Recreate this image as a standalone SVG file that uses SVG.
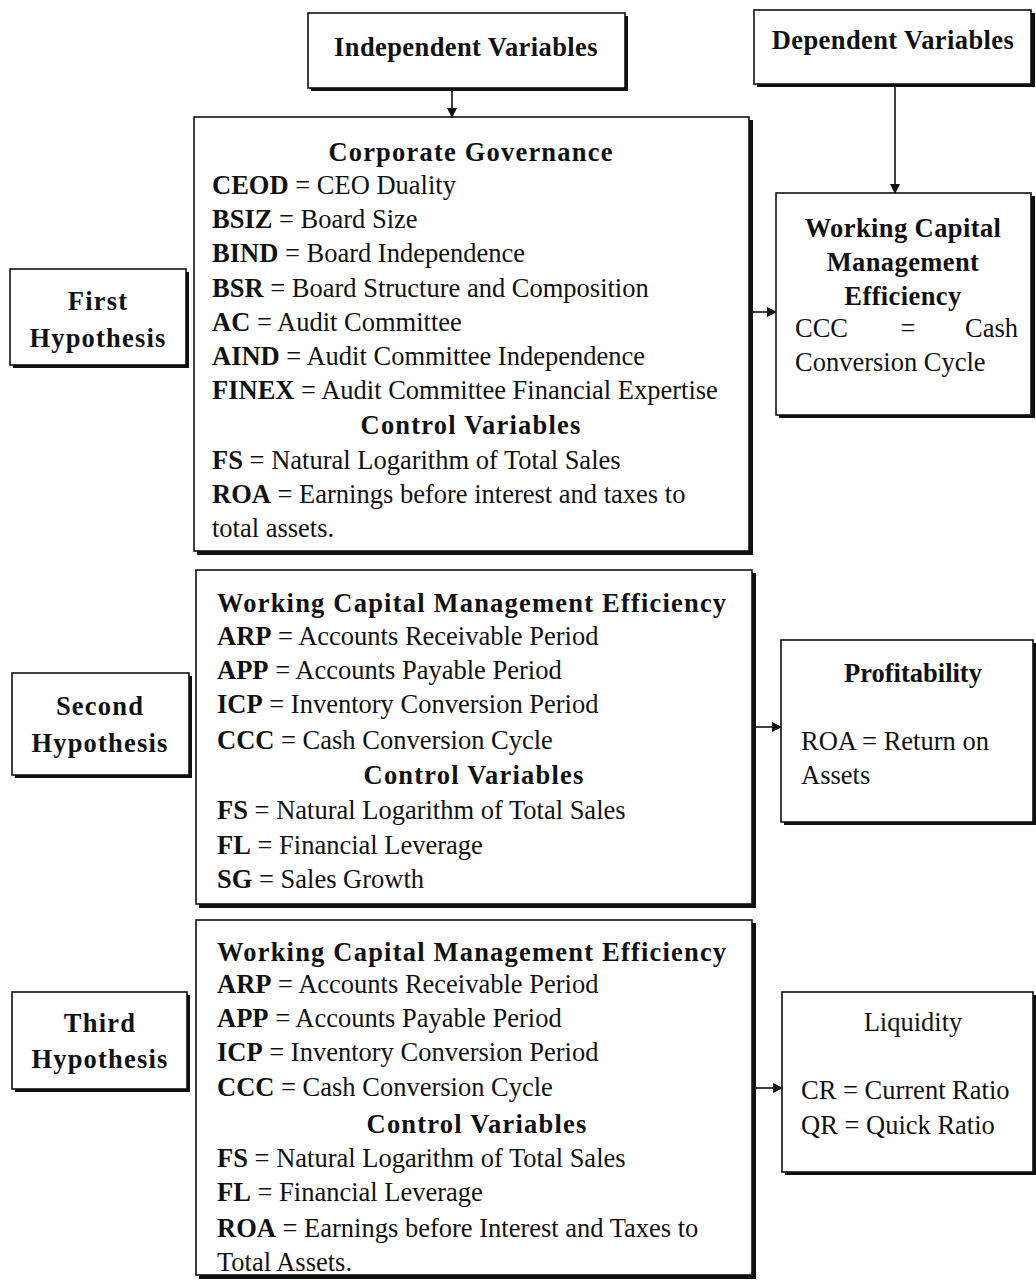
<svg xmlns="http://www.w3.org/2000/svg" width="1036" height="1283" viewBox="0 0 1036 1283">
  <style>
    text { font-family: "Liberation Serif", "Times New Roman", serif; font-size: 26.5px; fill: #111; }
    .b { font-weight: bold; }
    .t { font-weight: bold; letter-spacing: 1.2px; }
    .h { font-weight: bold; letter-spacing: 0.4px; }
    .c { text-anchor: middle; }
    .box { fill: #fff; stroke: #111; stroke-width: 1.6; }
    .shadow { fill: #111; }
    .link { stroke: #111; stroke-width: 1.6; fill: none; }
  </style>
  <defs>
    <marker id="arrow" markerWidth="10" markerHeight="10" refX="9" refY="5" orient="auto" markerUnits="userSpaceOnUse">
      <path d="M0,0 L10,5 L0,10 Z" fill="#111"/>
    </marker>
  </defs>

  <rect width="1036" height="1283" fill="#fff"/>

  <!-- header: independent variables -->
  <g id="independent">
    <rect class="shadow" x="311" y="16" width="317" height="75"/>
    <rect class="box" x="308" y="13" width="317" height="75"/>
    <text class="h c" x="466" y="56">Independent Variables</text>
  </g>

  <!-- header: dependent variables -->
  <g id="dependent">
    <rect class="shadow" x="757" y="13" width="278" height="74"/>
    <rect class="box" x="754" y="10" width="277" height="74"/>
    <text class="h c" x="893" y="49">Dependent Variables</text>
  </g>

  <!-- hypothesis labels -->
  <g id="first-hypothesis">
    <rect class="shadow" x="13" y="272" width="176" height="96"/>
    <rect class="box" x="10" y="269" width="176" height="96"/>
    <text class="t c" x="98" y="310">First</text>
    <text class="t c" x="98" y="347">Hypothesis</text>
  </g>
  <g id="second-hypothesis">
    <rect class="shadow" x="15" y="676" width="177" height="102"/>
    <rect class="box" x="12" y="673" width="177" height="102"/>
    <text class="t c" x="100" y="715">Second</text>
    <text class="t c" x="100" y="752">Hypothesis</text>
  </g>
  <g id="third-hypothesis">
    <rect class="shadow" x="15" y="995" width="175" height="97"/>
    <rect class="box" x="12" y="992" width="175" height="97"/>
    <text class="t c" x="100" y="1032">Third</text>
    <text class="t c" x="100" y="1068">Hypothesis</text>
  </g>

  <!-- first hypothesis: corporate governance -->
  <g id="corporate-governance">
    <rect class="shadow" x="197" y="120" width="556" height="435"/>
    <rect class="box" x="194" y="117" width="555" height="434"/>
    <text class="t c" x="471" y="161">Corporate Governance</text>
    <text x="212" y="194"><tspan class="b">CEOD</tspan> = CEO Duality</text>
    <text x="212" y="228"><tspan class="b">BSIZ</tspan> = Board Size</text>
    <text x="212" y="262"><tspan class="b">BIND</tspan> = Board Independence</text>
    <text x="212" y="297"><tspan class="b">BSR</tspan> = Board Structure and Composition</text>
    <text x="212" y="331"><tspan class="b">AC</tspan> = Audit Committee</text>
    <text x="212" y="365"><tspan class="b">AIND</tspan> = Audit Committee Independence</text>
    <text x="212" y="399"><tspan class="b">FINEX</tspan> = Audit Committee Financial Expertise</text>
    <text class="t c" x="471" y="434">Control Variables</text>
    <text x="212" y="469"><tspan class="b">FS</tspan> = Natural Logarithm of Total Sales</text>
    <text x="212" y="503"><tspan class="b">ROA</tspan> = Earnings before interest and taxes to</text>
    <text x="212" y="537">total assets.</text>
  </g>

  <!-- second hypothesis: working capital management -->
  <g id="wcm-second">
    <rect class="shadow" x="199" y="573" width="557" height="335"/>
    <rect class="box" x="196" y="570" width="556" height="334"/>
    <text class="t" x="217" y="612">Working Capital Management Efficiency</text>
    <text x="217" y="645"><tspan class="b">ARP</tspan> = Accounts Receivable Period</text>
    <text x="217" y="679"><tspan class="b">APP</tspan> = Accounts Payable Period</text>
    <text x="217" y="713"><tspan class="b">ICP</tspan> = Inventory Conversion Period</text>
    <text x="217" y="749"><tspan class="b">CCC</tspan> = Cash Conversion Cycle</text>
    <text class="t c" x="474" y="784">Control Variables</text>
    <text x="217" y="819"><tspan class="b">FS</tspan> = Natural Logarithm of Total Sales</text>
    <text x="217" y="854"><tspan class="b">FL</tspan> = Financial Leverage</text>
    <text x="217" y="888"><tspan class="b">SG</tspan> = Sales Growth</text>
  </g>

  <!-- third hypothesis: working capital management -->
  <g id="wcm-third">
    <rect class="shadow" x="199" y="923" width="557" height="356"/>
    <rect class="box" x="196" y="920" width="556" height="355"/>
    <text class="t" x="217" y="961">Working Capital Management Efficiency</text>
    <text x="217" y="993"><tspan class="b">ARP</tspan> = Accounts Receivable Period</text>
    <text x="217" y="1027"><tspan class="b">APP</tspan> = Accounts Payable Period</text>
    <text x="217" y="1061"><tspan class="b">ICP</tspan> = Inventory Conversion Period</text>
    <text x="217" y="1096"><tspan class="b">CCC</tspan> = Cash Conversion Cycle</text>
    <text class="t c" x="477" y="1133">Control Variables</text>
    <text x="217" y="1167"><tspan class="b">FS</tspan> = Natural Logarithm of Total Sales</text>
    <text x="217" y="1201"><tspan class="b">FL</tspan> = Financial Leverage</text>
    <text x="217" y="1237"><tspan class="b">ROA</tspan> = Earnings before Interest and Taxes to</text>
    <text x="217" y="1271">Total Assets.</text>
  </g>

  <!-- dependent: working capital management efficiency -->
  <g id="wcm-dependent">
    <rect class="shadow" x="779" y="196" width="256" height="222"/>
    <rect class="box" x="776" y="193" width="255" height="222"/>
    <text class="h c" x="903" y="237">Working Capital</text>
    <text class="h c" x="903" y="271">Management</text>
    <text class="h c" x="903" y="305">Efficiency</text>
    <text x="795" y="337">CCC</text>
    <text class="c" x="908" y="337">=</text>
    <text x="1018" y="337" text-anchor="end">Cash</text>
    <text x="795" y="371">Conversion Cycle</text>
  </g>

  <!-- dependent: profitability -->
  <g id="profitability">
    <rect class="shadow" x="784" y="643" width="252" height="182"/>
    <rect class="box" x="781" y="640" width="252" height="182"/>
    <text class="b c" x="913" y="682">Profitability</text>
    <text x="801" y="750">ROA = Return on</text>
    <text x="801" y="784">Assets</text>
  </g>

  <!-- dependent: liquidity -->
  <g id="liquidity">
    <rect class="shadow" x="785" y="995" width="251" height="180"/>
    <rect class="box" x="782" y="992" width="251" height="180"/>
    <text class="c" x="913" y="1031">Liquidity</text>
    <text x="801" y="1099">CR = Current Ratio</text>
    <text x="801" y="1134">QR = Quick Ratio</text>
  </g>

  <!-- connectors -->
  <g id="connectors">
    <line class="link" x1="452" y1="91" x2="452" y2="117" marker-end="url(#arrow)"/>
    <line class="link" x1="895" y1="87" x2="895" y2="193" marker-end="url(#arrow)"/>
    <line class="link" x1="753" y1="312" x2="776" y2="312" marker-end="url(#arrow)"/>
    <line class="link" x1="756" y1="727" x2="781" y2="727" marker-end="url(#arrow)"/>
    <line class="link" x1="756" y1="1088" x2="782" y2="1088" marker-end="url(#arrow)"/>
  </g>
</svg>
